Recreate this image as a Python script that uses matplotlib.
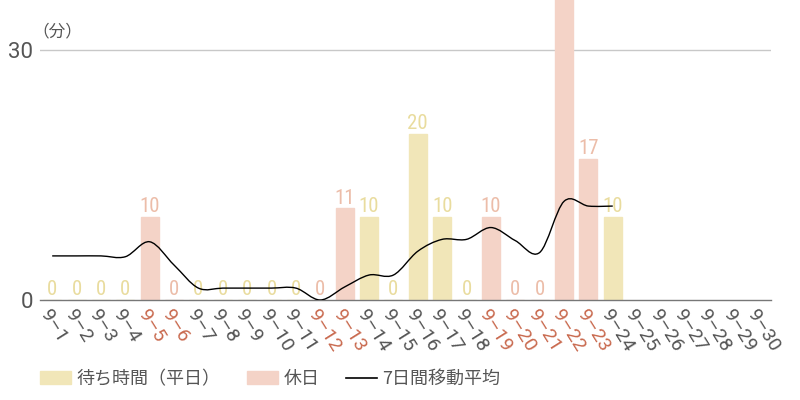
import numpy as np
import matplotlib.pyplot as plt
from matplotlib.path import Path
from matplotlib.patches import PathPatch, Patch
from matplotlib.lines import Line2D

plt.rcParams["font.family"] = ["Noto Sans CJK JP", "DejaVu Sans"]

# Data
days = [f"9-{d}" for d in range(1, 31)]
holidays = ["9-5", "9-6", "9-12", "9-13", "9-19", "9-20", "9-21", "9-22", "9-23"]
wait = [0, 0, 0, 0, 10, 0, 0, 0, 0, 0, 0, 0, 11, 10, 0, 20, 10, 0, 10, 0, 0, 42, 17, 10]
moving_avg = [5.3, 5.3, 5.3, 5.2, 7.0, 4.2, 1.43, 1.43, 1.43, 1.43, 1.43, 0.0,
              1.57, 3.0, 3.0, 5.86, 7.29, 7.29, 8.71, 7.14, 5.71, 11.86, 11.29, 11.29]

c_week = "#f1e6b8"
c_hol = "#f4d3c7"
c_week_txt = "#e9dc9e"
c_hol_txt = "#ecbda9"
c_hol_tick = "#c96a4f"
c_gray = "#555555"


def smooth_path(xs, ys):
    # catmull-rom -> cubic bezier control points
    verts = [(xs[0], ys[0])]
    codes = [Path.MOVETO]
    n = len(xs)
    for i in range(n - 1):
        x0, y0 = (xs[i - 1], ys[i - 1]) if i > 0 else (xs[i], ys[i])
        x1, y1 = xs[i], ys[i]
        x2, y2 = xs[i + 1], ys[i + 1]
        x3, y3 = (xs[i + 2], ys[i + 2]) if i + 2 < n else (x2, y2)
        verts += [(x1 + (x2 - x0) / 6, y1 + (y2 - y0) / 6),
                  (x2 - (x3 - x1) / 6, y2 - (y3 - y1) / 6),
                  (x2, y2)]
        codes += [Path.CURVE4] * 3
    return Path(verts, codes)


fig = plt.figure(figsize=(8, 4), dpi=100)
ax = fig.add_axes([0.05, 0.25, 0.914, 0.75])

x = np.arange(len(days))
xd = x[:len(wait)]
is_hol = [days[i] in holidays for i in range(len(wait))]
colors = [c_hol if h else c_week for h in is_hol]

ax.bar(xd, wait, width=0.74, color=colors, edgecolor=colors, linewidth=1, zorder=2)

ymax = 36.06
for i, v in enumerate(wait):
    if v + 3 > ymax:
        continue
    ax.text(xd[i], v + 0.1, str(v), ha="center", va="bottom", fontsize=15,
            color=c_hol_txt if is_hol[i] else c_week_txt,
            family=["Roboto Condensed", "Liberation Sans Narrow", "DejaVu Sans"],
            fontstretch="condensed", zorder=3)

path = smooth_path(list(xd.astype(float)), moving_avg)
ax.add_patch(PathPatch(path, facecolor="none", edgecolor="black", lw=1, zorder=4))

ax.set_xlim(-0.5, len(days) - 0.5)
ax.set_ylim(0, ymax)

ax.axhline(30, color="#c8c8c8", lw=1, zorder=1)
for s in ["top", "right", "left"]:
    ax.spines[s].set_visible(False)
ax.spines["bottom"].set_color("#777777")
ax.spines["bottom"].set_linewidth(1)

ax.set_yticks([0, 30])
ax.set_yticklabels(["0", "30"])
ax.tick_params(axis="y", length=0, labelsize=16, labelcolor=c_gray, pad=5)
for lab in ax.get_yticklabels():
    lab.set_family(["Roboto", "DejaVu Sans"])

ax.set_xticks(x)
ax.set_xticklabels([d.replace("-", "–") for d in days], rotation=-58,
                   ha="left", va="top", rotation_mode="anchor")
ax.tick_params(axis="x", length=0, labelsize=14, pad=5)
for lab, d in zip(ax.get_xticklabels(), days):
    lab.set_color(c_hol_tick if d in holidays else c_gray)
    lab.set_family(["Roboto", "DejaVu Sans"])

fig.text(0.04, 0.92, "（分）", fontsize=12, color=c_gray, ha="left", va="center")

handles = [Patch(color=c_week), Patch(color=c_hol), Line2D([], [], color="black", lw=1.2)]
labels = ["待ち時間（平日）", "休日", "7日間移動平均"]
fig.legend(handles, labels, loc="lower left", bbox_to_anchor=(0.05, 0.03), ncol=3,
           frameon=False, fontsize=13, labelcolor=c_gray, handlelength=1.7,
           handleheight=0.72, handletextpad=0.3, columnspacing=1.5,
           borderpad=0, borderaxespad=0)

plt.savefig("out.png", dpi=100)
